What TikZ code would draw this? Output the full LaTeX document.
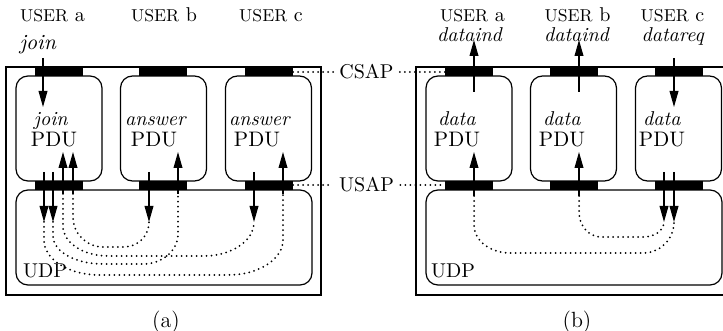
\documentclass[tikz,border=0pt]{standalone}
\usetikzlibrary{arrows.meta}
\newcommand{\usr}{{\fontsize{8.6}{10}\selectfont USER}}
\begin{document}
\begin{tikzpicture}[x=0.5pt,y=-0.5pt,
  frame/.style={draw,line width=0.7pt,rectangle,inner sep=0pt,minimum width=157.5pt,minimum height=114pt},
  pdubox/.style={draw,line width=0.6pt,rectangle,rounded corners=6pt,inner sep=0pt,minimum width=43pt,minimum height=52.5pt},
  udpbox/.style={draw,line width=0.6pt,rectangle,rounded corners=6pt,inner sep=0pt,minimum width=148pt,minimum height=47.5pt},
  sapbar/.style={fill=black,draw=none,rectangle,inner sep=0pt,minimum width=24pt,minimum height=4.5pt},
  msg/.style={line width=0.6pt,-{Triangle[length=8pt,width=4.4pt]}},
  dots/.style={line width=1pt,line cap=round,dash pattern=on 0pt off 2.5pt},
  txt/.style={inner sep=0pt,anchor=base},
  big/.style={font=\fontsize{10.5}{12}\selectfont},
]
\useasboundingbox (0,0) rectangle (723,331);
\clip (0,0) rectangle (723,331);

% ================= panel (a) =================
\node[frame] (outA) at (163.5,181) {};
\node[pdubox] (pa) at (59,128.5) {};
\node[pdubox] (pb) at (163.5,128.5) {};
\node[pdubox] (pc) at (268.5,128.5) {};
\node[udpbox] (udpA) at (164,237.5) {};
\node[sapbar] (csa) at (59,71.5) {};
\node[sapbar] (csb) at (163,71.5) {};
\node[sapbar] (csc) at (268.5,71.5) {};
\node[sapbar] (usa) at (59,185.5) {};
\node[sapbar] (usb) at (163,185.5) {};
\node[sapbar] (usc) at (268.5,185.5) {};

\node[txt] (uA1) at (52.5,22) {\usr{} a};
\node[txt] (uB1) at (164,22) {\usr{} b};
\node[txt] (uC1) at (271,22) {\usr{} c};
\node[txt,font=\fontsize{10.8}{12}\selectfont] (joinTop) at (38,50) {\textit{join}};
\node[txt] (t1a) at (51,126) {\textit{join}};
\node[txt,big] (t2a) at (54,147) {PDU};
\node[txt] (t1b) at (156,126) {\textit{answer}};
\node[txt,big] (t2b) at (154,147) {PDU};
\node[txt] (t1c) at (260,126) {\textit{answer}};
\node[txt,big] (t2c) at (257,147) {PDU};
\node[txt] (udpTxtA) at (45,278) {UDP};
\node[font=\fontsize{11}{13}\selectfont] (capA) at (166,322) {(a)};

% arrows (a)
\coordinate (j0) at (43,58);   \coordinate (j1) at (43,107);
\draw[msg] (j0) -- (j1);
\coordinate (ad1s) at (44,172); \coordinate (ad1) at (44,222);
\coordinate (ad2s) at (53,172); \coordinate (ad2) at (53,222);
\coordinate (au1s) at (63,194); \coordinate (au1) at (63,152);
\coordinate (au2s) at (73,194); \coordinate (au2) at (73,152);
\coordinate (bds) at (149,172); \coordinate (bd) at (149,222);
\coordinate (bus) at (178,194); \coordinate (bu) at (178,152);
\coordinate (cds) at (254,172); \coordinate (cd) at (254,222);
\coordinate (cus) at (283,194); \coordinate (cu) at (283,152);
\draw[msg] (ad1s) -- (ad1);
\draw[msg] (ad2s) -- (ad2);
\draw[msg] (au1s) -- (au1);
\draw[msg] (au2s) -- (au2);
\draw[msg] (bds) -- (bd);
\draw[msg] (bus) -- (bu);
\draw[msg] (cds) -- (cd);
\draw[msg] (cus) -- (cu);

% dotted routes (a)
\draw[dots] (au2s) -- (73,217) .. controls (73,233.6) and (86.4,247) .. (103,247)
  -- (124,247) .. controls (137.8,247) and (149,235.8) .. (bd);
\draw[dots] (au1s) -- (63,226) .. controls (63,242.6) and (83.2,256) .. (108,256)
  -- (204,256) .. controls (231.6,256) and (254,240.8) .. (cd);
\draw[dots] (ad2) -- (53,236) .. controls (53,251.5) and (75.4,264) .. (103,264)
  -- (143,264) .. controls (162.3,264) and (178,250.6) .. (178,234) -- (bus);
\draw[dots] (ad1) -- (44,240) .. controls (44,259.3) and (68.6,275) .. (99,275)
  -- (228,275) .. controls (258.4,275) and (283,259.3) .. (283,240) -- (cus);

% ================= panel (b) =================
\node[frame] (outB) at (573.5,181) {};
\node[pdubox] (qa) at (469,128.5) {};
\node[pdubox] (qb) at (573.5,128.5) {};
\node[pdubox] (qc) at (678.5,128.5) {};
\node[udpbox] (udpB) at (574,237.5) {};
\node[sapbar] (csa2) at (469,71.5) {};
\node[sapbar] (csb2) at (573.5,71.5) {};
\node[sapbar] (csc2) at (679,71.5) {};
\node[sapbar] (usa2) at (469,185.5) {};
\node[sapbar] (usb2) at (573.5,185.5) {};
\node[sapbar] (usc2) at (679,185.5) {};

\node[txt] (uA2) at (472.5,22) {\usr{} a};
\node[txt] (uB2) at (577.5,22) {\usr{} b};
\node[txt] (uC2) at (672.5,22) {\usr{} c};
\node[txt] (ind1) at (470,42) {\textit{dataind}};
\node[txt] (ind2) at (577,42) {\textit{dataind}};
\node[txt] (req3) at (673,42) {\textit{datareq}};
\node[txt] (s1a) at (457,126) {\textit{data}};
\node[txt,big] (s2a) at (457,147) {PDU};
\node[txt] (s1b) at (562,126) {\textit{data}};
\node[txt,big] (s2b) at (562,147) {PDU};
\node[txt] (s1c) at (662,126) {\textit{data}};
\node[txt,big] (s2c) at (662,147) {PDU};
\node[txt] (udpTxtB) at (453,278) {UDP};
\node[font=\fontsize{11}{13}\selectfont] (capB) at (577,322) {(b)};

% arrows (b)
\coordinate (ia0) at (474,92);  \coordinate (ia1) at (474,40);
\coordinate (ib0) at (579,92);  \coordinate (ib1) at (579,40);
\coordinate (rc0) at (674,58);  \coordinate (rc1) at (674,107);
\draw[msg] (ia0) -- (ia1);
\draw[msg] (ib0) -- (ib1);
\draw[msg] (rc0) -- (rc1);
\coordinate (qaus) at (474,196); \coordinate (qau) at (474,152);
\coordinate (qbus) at (579,196); \coordinate (qbu) at (579,152);
\coordinate (qcd1s) at (664,172); \coordinate (qcd1) at (664,222);
\coordinate (qcd2s) at (674,172); \coordinate (qcd2) at (674,222);
\draw[msg] (qaus) -- (qau);
\draw[msg] (qbus) -- (qbu);
\draw[msg] (qcd1s) -- (qcd1);
\draw[msg] (qcd2s) -- (qcd2);

\draw[dots] (qaus) -- (474,225) .. controls (474,240.5) and (490.1,253) .. (510,253)
  -- (643,253) .. controls (660.1,253) and (674,239.1) .. (qcd2);
\draw[dots] (qbus) -- (579,212) .. controls (579,225.8) and (588.9,237) .. (601,237)
  -- (643,237) .. controls (654.6,237) and (664,230.3) .. (qcd1);

% ================= SAP labels =================
\node[inner sep=0pt] (csap) at (366.5,72) {CSAP};
\node[inner sep=0pt] (usap) at (366.5,185) {USAP};
\coordinate (csL) at (293,72);  \coordinate (csR) at (445,72);
\coordinate (usL) at (293,185); \coordinate (usR) at (445,185);
\draw[dots] (csL) -- ([xshift=-3pt]csap.west);
\draw[dots] ([xshift=3pt]csap.east) -- (csR);
\draw[dots] (usL) -- ([xshift=-3pt]usap.west);
\draw[dots] ([xshift=3pt]usap.east) -- (usR);
\end{tikzpicture}
\end{document}
